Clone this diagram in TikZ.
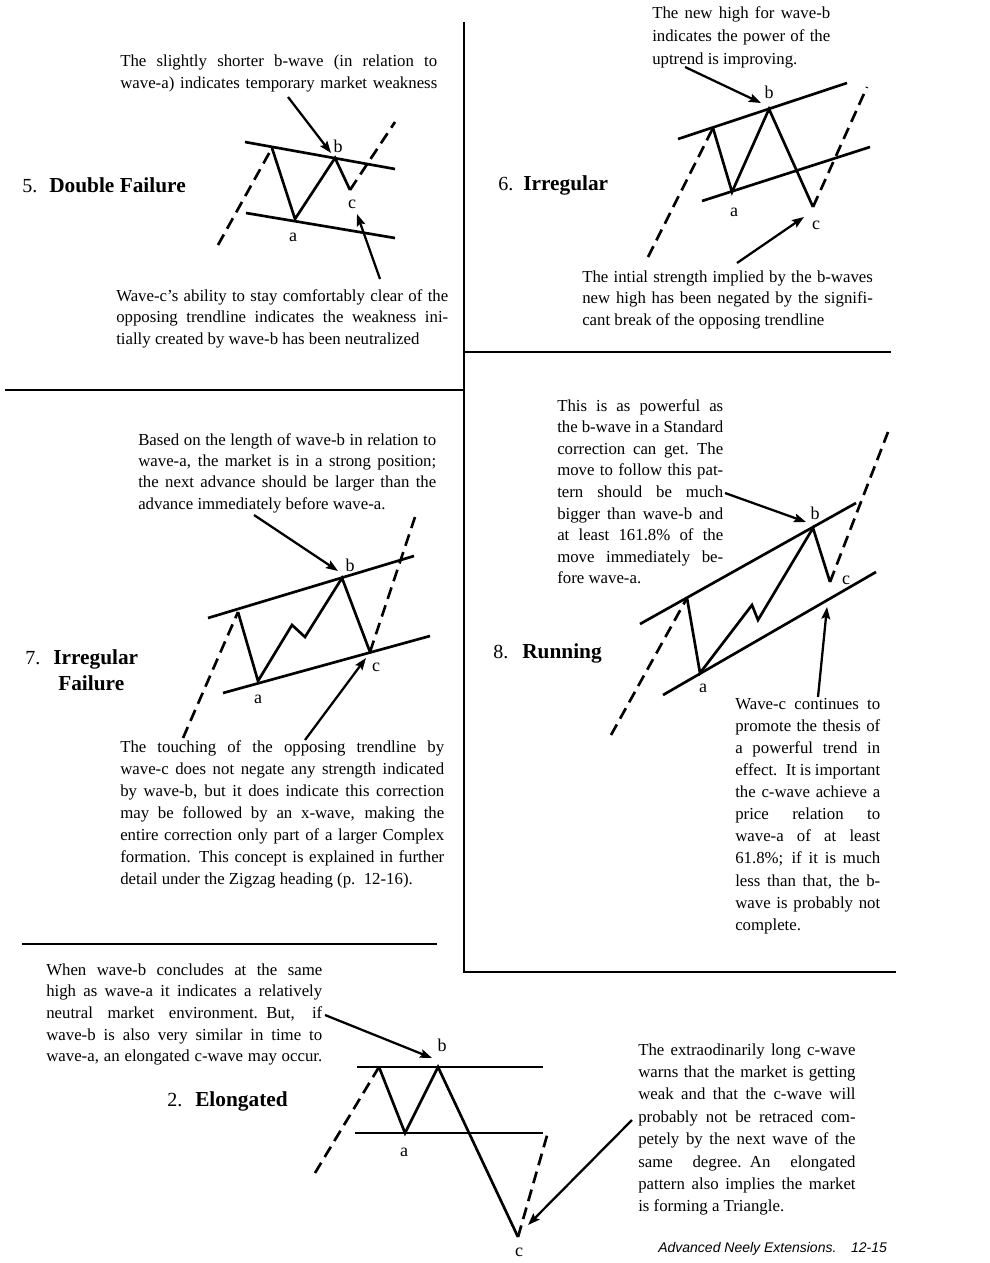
\documentclass[tikz,border=0pt]{standalone}
\usepackage{fontspec}
\setmainfont{Liberation Serif}
\setsansfont{Liberation Sans}
\usetikzlibrary{arrows.meta}

% one line of a note, stretched to the full width of that note
\newlength{\notew}
\newcommand{\fl}[1]{\makebox[\notew][s]{#1}}

\tikzset{
  divider/.style={line width=1.6pt},
  trend/.style={line width=2pt},
  wave/.style={line width=2pt, line join=miter},
  guide/.style={line width=2pt, dash pattern=on 9pt off 5pt},
  pointer/.style={line width=1.7pt, -{Stealth[length=9pt,width=6.5pt,inset=1.5pt]}},
  note/.style={inner sep=0pt, align=left, anchor=base west, text width=#1,
    execute at begin node={\setlength{\notew}{#1}%
      \spaceskip=0.25em plus 0.6em minus 0.08em},
    font=\fontsize{12.6}{16.2}\selectfont},
  heading/.style={inner sep=0pt, anchor=base west,
    font=\fontsize{16}{19}\selectfont\bfseries},
  num/.style={inner sep=0pt, anchor=base west,
    font=\fontsize{15}{18}\selectfont},
  lbl/.style={inner sep=0pt, font=\fontsize{13.5}{16}\selectfont},
}

\begin{document}
\begin{tikzpicture}[x=0.75pt, y=-0.75pt]
  \useasboundingbox (0,0) rectangle (989,1263);

  % Panel frames
  \draw[divider] (464,22) -- (464,972) -- (896,972);
  \draw[divider] (464,352) -- (891,352);
  \draw[divider] (5,390) -- (464,390);
  \draw[divider] (22,944) -- (437,944);

  % 5. Double Failure
  \node[num] (t5num) at (22,192) {5.};
  \node[heading] (t5) at (49,192) {Double Failure};
  \node[note=237.75pt] (n5top) at (120,67)
    {\fl{The slightly shorter b-wave (in relation to}\\
     \fl{wave-a) indicates temporary market weakness}};
  \node[note=249pt] (n5bot) at (116,301)
    {\fl{Wave-c's ability to stay comfortably clear of the}\\
     \fl{opposing trendline indicates the weakness ini-}\\
     tially created by wave-b has been neutralized};
  \coordinate (w5s) at (272,148);
  \coordinate (w5a) at (295,219);
  \coordinate (w5b) at (335,158);
  \coordinate (w5c) at (350,190);
  \draw[trend] (245,142) -- (395,169);
  \draw[trend] (246,213) -- (395,238);
  \draw[guide] (218,245) -- (w5s);
  \draw[wave] (w5s) -- (w5a) -- (w5b) -- (w5c);
  \draw[guide] (w5c) -- (395,122);
  \node[lbl] (l5a) at (293,237) {a};
  \node[lbl] (l5b) at (338,146) {b};
  \node[lbl] (l5c) at (352,204) {c};
  \coordinate (q5from) at (288,97);
  \coordinate (q5to) at (331,153);
  \draw[pointer] (q5from) -- (q5to);
  \coordinate (r5from) at (380,279);
  \coordinate (r5to) at (357,214);
  \draw[pointer] (r5from) -- (r5to);

  % 6. Irregular
  \node[num] (t6num) at (498,190) {6.};
  \node[heading] (t6) at (523,190) {Irregular};
  \node[note=133.5pt, font=\fontsize{12.6}{16.9}\selectfont] (n6top) at (652,19)
    {\fl{The new high for wave-b}\\
     \fl{indicates the power of the}\\
     uptrend is improving.};
  \node[note=218pt] (n6bot) at (582,282)
    {\fl{The intial strength implied by the b-waves}\\
     \fl{new high has been negated by the signifi-}\\
     cant break of the opposing trendline};
  \coordinate (w6s) at (713,128);
  \coordinate (w6a) at (732,192);
  \coordinate (w6b) at (769,109);
  \coordinate (w6c) at (813,207);
  \draw[trend] (678,139) -- (847,83);
  \draw[trend] (702,201) -- (870,147);
  \draw[guide] (648,257) -- (w6s);
  \draw[wave] (w6s) -- (w6a) -- (w6b) -- (w6c);
  \draw[guide] (w6c) -- (867,87);
  \node[lbl] (l6a) at (734,212) {a};
  \node[lbl] (l6b) at (769,92) {b};
  \node[lbl] (l6c) at (816,225) {c};
  \coordinate (q6from) at (685,67);
  \coordinate (q6to) at (761,103);
  \draw[pointer] (q6from) -- (q6to);
  \coordinate (r6from) at (737,263);
  \coordinate (r6to) at (804,217);
  \draw[pointer] (r6from) -- (r6to);

  % 7. Irregular Failure
  \node[num] (t7num) at (25,664) {7.};
  \node[heading] (t7) at (53,664) {Irregular};
  \node[heading] (t7b) at (58,690) {Failure};
  \node[note=223.5pt, font=\fontsize{12.6}{16}\selectfont] (n7top) at (138,445)
    {\fl{Based on the length of wave-b in relation to}\\
     \fl{wave-a, the market is in a strong position;}\\
     \fl{the next advance should be larger than the}\\
     advance immediately before wave-a.};
  \node[note=243pt, font=\fontsize{12.6}{16.5}\selectfont] (n7bot) at (120,752)
    {\fl{The touching of the opposing trendline by}\\
     \fl{wave-c does not negate any strength indicated}\\
     \fl{by wave-b, but it does indicate this correction}\\
     \fl{may be followed by an x-wave, making the}\\
     \fl{entire correction only part of a larger Complex}\\
     \fl{formation. This concept is explained in further}\\
     detail under the Zigzag heading (p. 12-16).};
  \coordinate (w7s) at (238,612);
  \coordinate (w7a) at (258,681);
  \coordinate (w7x) at (292,625);
  \coordinate (w7y) at (305,637);
  \coordinate (w7b) at (342,578);
  \coordinate (w7c) at (370,652);
  \draw[trend] (208,618) -- (414,556);
  \draw[trend] (223,693) -- (430,636);
  \draw[guide] (183,738) -- (w7s);
  \draw[wave] (w7s) -- (w7a) -- (w7x) -- (w7y) -- (w7b) -- (w7c);
  \draw[guide] (w7c) -- (415,517);
  \node[lbl] (l7a) at (258,699) {a};
  \node[lbl] (l7b) at (350,565) {b};
  \node[lbl] (l7c) at (376,667) {c};
  \coordinate (q7from) at (254,515);
  \coordinate (q7to) at (338,571);
  \draw[pointer] (q7from) -- (q7to);
  \coordinate (r7from) at (305,740);
  \coordinate (r7to) at (366,658);
  \draw[pointer] (r7from) -- (r7to);

  % 8. Running
  \node[num] (t8num) at (493,658) {8.};
  \node[heading] (t8) at (522,658) {Running};
  \node[note=124.5pt] (n8top) at (557,411)
    {\fl{This is as powerful as}\\
     \fl{the b-wave in a Standard}\\
     \fl{correction can get. The}\\
     \fl{move to follow this pat-}\\
     \fl{tern should be much}\\
     \fl{bigger than wave-b and}\\
     \fl{at least 161.8\% of the}\\
     \fl{move immediately be-}\\
     fore wave-a.};
  \node[note=108.75pt, font=\fontsize{12.6}{16.6}\selectfont] (n8bot) at (735,709)
    {\fl{Wave-c continues to}\\
     \fl{promote the thesis of}\\
     \fl{a powerful trend in}\\
     \fl{effect. It is important}\\
     \fl{the c-wave achieve a}\\
     \fl{price relation to}\\
     \fl{wave-a of at least}\\
     \fl{61.8\%; if it is much}\\
     \fl{less than that, the b-}\\
     \fl{wave is probably not}\\
     complete.};
  \coordinate (w8s) at (687,598);
  \coordinate (w8a) at (700,673);
  \coordinate (w8x) at (752,605);
  \coordinate (w8y) at (758,620);
  \coordinate (w8b) at (813,528);
  \coordinate (w8c) at (830,582);
  \draw[trend] (640,624) -- (856,503);
  \draw[trend] (663,695) -- (876,572);
  \draw[guide] (611,735) -- (w8s);
  \draw[wave] (w8s) -- (w8a) -- (w8x) -- (w8y) -- (w8b) -- (w8c);
  \draw[guide] (w8c) -- (888,432);
  \node[lbl] (l8a) at (703,688) {a};
  \node[lbl] (l8b) at (815,513) {b};
  \node[lbl] (l8c) at (846,580) {c};
  \coordinate (q8from) at (725,493);
  \coordinate (q8to) at (806,522);
  \draw[pointer] (q8from) -- (q8to);
  \coordinate (r8from) at (818,697);
  \coordinate (r8to) at (827,607);
  \draw[pointer] (r8from) -- (r8to);

  % 2. Elongated
  \node[num] (t2num) at (167,1106) {2.};
  \node[heading] (t2) at (195,1106) {Elongated};
  \node[note=207pt, font=\fontsize{12.6}{16.3}\selectfont] (n2left) at (46,975)
    {\fl{When wave-b concludes at the same}\\
     \fl{high as wave-a it indicates a relatively}\\
     \fl{neutral market environment. But, if}\\
     \fl{wave-b is also very similar in time to}\\
     \fl{wave-a, an elongated c-wave may occur.}};
  \node[note=163pt, font=\fontsize{12.6}{16.8}\selectfont] (n2right) at (638,1055)
    {\fl{The extraodinarily long c-wave}\\
     \fl{warns that the market is getting}\\
     \fl{weak and that the c-wave will}\\
     \fl{probably not be retraced com-}\\
     \fl{petely by the next wave of the}\\
     \fl{same degree. An elongated}\\
     \fl{pattern also implies the market}\\
     is forming a Triangle.};
  \coordinate (w2s) at (379,1067);
  \coordinate (w2a) at (405,1133);
  \coordinate (w2b) at (438,1067);
  \coordinate (w2c) at (518,1237);
  \draw[trend] (357,1067) -- (543,1067);
  \draw[trend] (355,1133) -- (543,1133);
  \draw[guide] (315,1173) -- (w2s);
  \draw[wave] (w2s) -- (w2a) -- (w2b) -- (w2c);
  \draw[guide] (w2c) -- (548,1132);
  \node[lbl] (l2a) at (404,1152) {a};
  \node[lbl] (l2b) at (442,1045) {b};
  \node[lbl] (l2c) at (519,1252) {c};
  \coordinate (q2from) at (325,1015);
  \coordinate (q2to) at (432,1058);
  \draw[pointer] (q2from) -- (q2to);
  \coordinate (r2from) at (632,1120);
  \coordinate (r2to) at (528,1225);
  \draw[pointer] (r2from) -- (r2to);

  % page footer
  \node[inner sep=0pt, anchor=base west, font=\sffamily\itshape\fontsize{10.5}{12}\selectfont]
    (foot) at (658,1252) {Advanced Neely Extensions.\hspace{11pt}12-15};
\end{tikzpicture}
\end{document}
